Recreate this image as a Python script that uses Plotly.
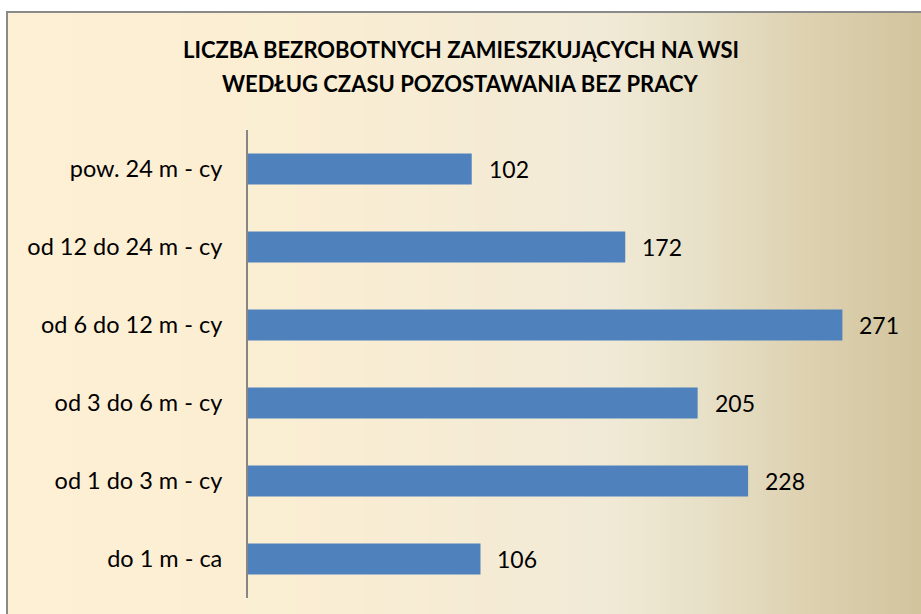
import plotly.graph_objects as go

categories = ["do 1 m - ca", "od 1 do 3 m - cy", "od 3 do 6 m - cy",
              "od 6 do 12 m - cy", "od 12 do 24 m - cy", "pow. 24 m - cy"]
values = [106, 228, 205, 271, 172, 102]
title_lines = ["LICZBA BEZROBOTNYCH ZAMIESZKUJĄCYCH NA WSI",
               "WEDŁUG CZASU POZOSTAWANIA BEZ PRACY"]

W, H = 921, 614
L, R, T, B = 248, 906, 130, 598  # plot area in pixels
FONT = "Lato, Open Sans, sans-serif"

def px2x(p):
    return (p - L) / (R - L)

def px2y(q):
    return (B - q) / (B - T)

stops = [(7, (254, 240, 212)), (350, (249, 237, 211)), (600, (241, 234, 215)),
         (700, (232, 225, 200)), (800, (222, 210, 178)), (930, (209, 195, 155))]

def col(p):
    for (p0, c0), (p1, c1) in zip(stops[:-1], stops[1:]):
        if p0 <= p <= p1:
            t = (p - p0) / (p1 - p0)
            return "rgb(%d,%d,%d)" % tuple(round(a + (b - a) * t) for a, b in zip(c0, c1))
    return "rgb(%d,%d,%d)" % stops[-1][1]

shapes = []
n = 160
x0p, x1p = 7, 930
step = (x1p - x0p) / n
for i in range(n):
    a = x0p + i * step
    b = a + step + 0.8
    shapes.append(dict(type="rect", xref="paper", yref="paper",
                       x0=px2x(a), x1=px2x(b), y0=px2y(630), y1=px2y(12),
                       fillcolor=col(a + step / 2), line=dict(width=0), layer="below"))
shapes.append(dict(type="rect", xref="paper", yref="paper",
                   x0=px2x(7), x1=px2x(940), y0=px2y(640), y1=px2y(12),
                   fillcolor="rgba(0,0,0,0)", line=dict(color="#8a8a8a", width=2), layer="below"))

fig = go.Figure(go.Bar(
    x=values, y=categories, orientation="h",
    marker=dict(color="#4F81BD", line=dict(width=0)),
    width=0.4, hoverinfo="skip",
))

annotations = []
for v, c in zip(values, categories):
    annotations.append(dict(x=v, y=c, xref="x", yref="y", text=str(v), showarrow=False,
                            xanchor="left", yanchor="middle", xshift=15,
                            font=dict(family=FONT, size=23, color="#000000")))
for i, t in enumerate(title_lines):
    annotations.append(dict(x=px2x(W / 2), y=px2y(50 + 34 * i), xref="paper", yref="paper",
                            text="<b>%s</b>" % t, showarrow=False,
                            xanchor="center", yanchor="middle",
                            font=dict(family=FONT, size=22, color="#000000")))

fig.update_layout(
    width=W, height=H,
    margin=dict(l=L, r=W - R, t=T, b=H - B, pad=0),
    paper_bgcolor="white", plot_bgcolor="rgba(0,0,0,0)",
    showlegend=False,
    shapes=shapes, annotations=annotations,
    xaxis=dict(range=[0, 300], showgrid=False, zeroline=False, showticklabels=False,
               showline=False, ticks=""),
    yaxis=dict(showgrid=False, zeroline=False, showline=True, linecolor="#868686", linewidth=2,
               ticks="", ticklabelstandoff=19, automargin=False,
               tickfont=dict(family=FONT, size=23.5, color="#000000")),
    bargap=0.6,
)

fig.write_html("out.html", config={"displayModeBar": False})
with open("out.html", encoding="utf-8") as f:
    html = f.read()
html = html.replace("<body>", '<body style="margin:0;padding:0;overflow:hidden">', 1)
with open("out.html", "w", encoding="utf-8") as f:
    f.write(html)
